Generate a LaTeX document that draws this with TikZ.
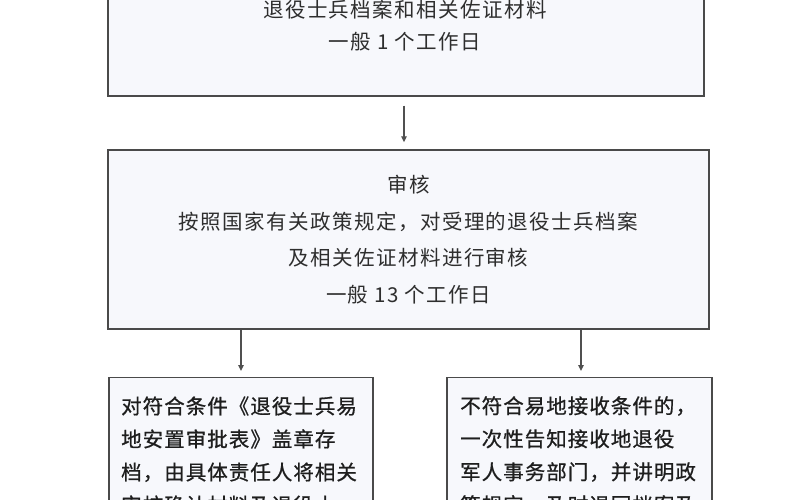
\documentclass[tikz,border=0pt]{standalone}
\usepackage{fontspec}
\newfontfamily\cjkA[LetterSpace=7]{Noto Sans CJK SC}
\newfontfamily\cjkB[LetterSpace=5,FakeBold=0.8]{Noto Sans CJK SC}
\usetikzlibrary{arrows.meta}
\definecolor{boxfill}{HTML}{F7F8FC}
\definecolor{boxline}{HTML}{4A4A4A}
\definecolor{arrowc}{HTML}{505050}
\definecolor{txtA}{HTML}{2E2E2E}
\definecolor{txtB}{HTML}{1E1E1E}
\begin{document}
\begin{tikzpicture}[x=1pt,y=-1pt,
  box/.style={draw=boxline, line width=1.4pt, fill=boxfill, inner sep=0pt},
  ctext/.style={text=txtA, align=center, font=\cjkA\fontsize{20.5}{32}\selectfont, inner sep=0pt},
  ltext/.style={text=txtB, align=left, font=\cjkB\fontsize{20.5}{33}\selectfont, inner sep=0pt, anchor=west},
  arr/.style={draw=arrowc, line width=1.3pt, -{Triangle[length=6pt,width=5.5pt]}}]
\clip (0,0) rectangle (800,500);
\fill[white] (0,0) rectangle (800,500);
% top box (cut by the top edge)
\node[box, minimum width=596pt, minimum height=200pt] (top) at (406,-4) {};
\node[ctext] (toptxt) at (405,26) {退役士兵档案和相关佐证材料\\一般 1 个工作日};
% review box
\node[box, minimum width=601pt, minimum height=179pt, ctext, font=\cjkA\fontsize{20.5}{36.5}\selectfont] (mid) at (408.5,239.5)
  {审核\\按照国家有关政策规定，对受理的退役士兵档案\\及相关佐证材料进行审核\\一般 13 个工作日};
% bottom boxes (cut by the bottom edge)
\node[box, minimum width=264pt, minimum height=200pt, anchor=north] (left) at (241,377) {};
\node[box, minimum width=265pt, minimum height=200pt, anchor=north] (right) at (579.5,377) {};
\node[ltext] (lefttxt) at (121,455.5)
  {对符合条件《退役士兵易\\地安置审批表》盖章存\\档，由具体责任人将相关\\审核确认材料及退役士};
\node[ltext] (righttxt) at (460,455.5)
  {不符合易地接收条件的，\\一次性告知接收地退役\\军人事务部门，并讲明政\\策规定，及时退回档案及};
% connectors
\draw[arr, shorten <=9pt, shorten >=7pt] (top.south -| 404,0) -- (mid.north -| 404,0);
\draw[arr, shorten >=6pt] (mid.south -| left.north) -- (left.north);
\draw[arr, shorten >=6pt] (mid.south -| 581,0) -- (right.north -| 581,0);
\end{tikzpicture}
\end{document}
